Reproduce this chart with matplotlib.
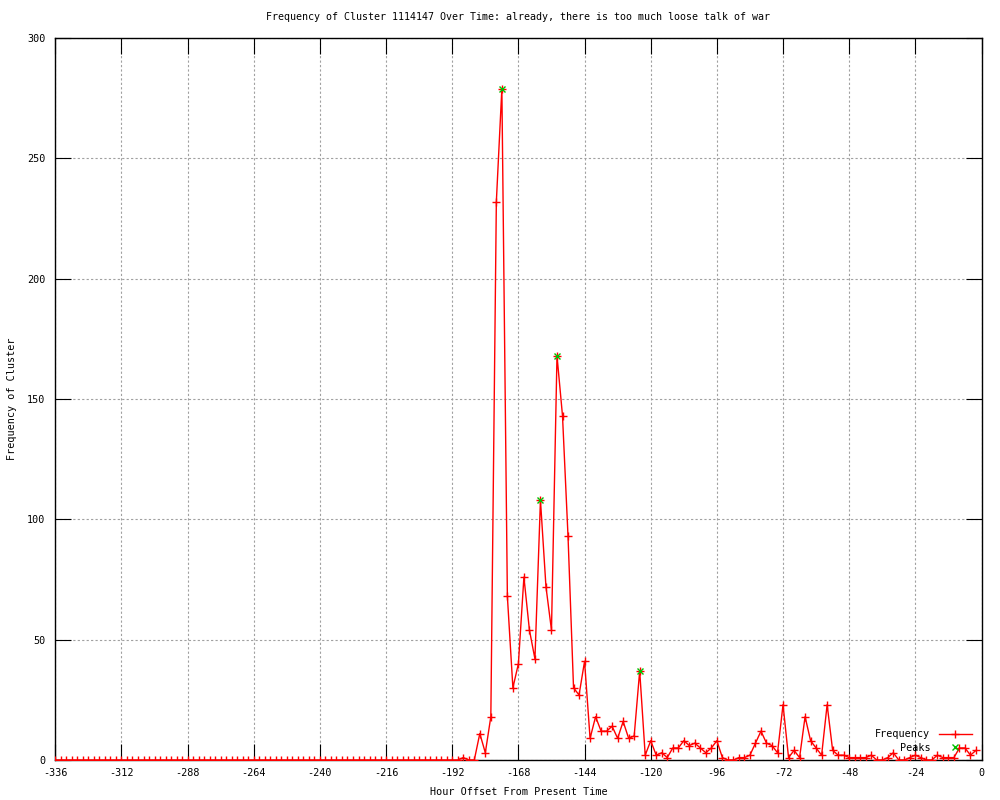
import matplotlib
matplotlib.use('Agg')
import matplotlib.pyplot as plt
import numpy as np

# Data: hourly offsets (every 2 hours) and cluster frequency
hours = np.arange(-336, 0, 2)
freq = [0] * 74 + [
    1, 0, 0, 11, 3, 18, 232, 279, 68, 30,
    40, 76, 54, 42, 108, 72, 54, 168, 143, 93,
    30, 27, 41, 9, 18, 12, 12, 14, 9, 16,
    9, 10, 37, 2, 8, 2, 3, 1, 5, 5,
    8, 6, 7, 5, 3, 5, 8, 1, 0, 0,
    1, 1, 2, 7, 12, 7, 6, 3, 23, 1,
    4, 1, 18, 8, 5, 2, 23, 4, 2, 2,
    1, 1, 1, 1, 2, 0, 0, 1, 3, 0,
    0, 1, 2, 1, 0, 0, 2, 1, 1, 1,
    5, 5, 2, 4,
]
peak_hours = [-174, -160, -154, -124]
peak_values = [279, 108, 168, 37]

x_ticks = list(range(-336, 1, 24))
y_ticks = list(range(0, 301, 50))

plt.rcParams['font.family'] = ['DejaVu Sans Mono']
plt.rcParams['font.size'] = 7.3
plt.rcParams['axes.unicode_minus'] = False

fig = plt.figure(figsize=(10, 8), dpi=100)
ax = fig.add_axes([0.0553, 0.05, 0.9262, 0.9025])

ax.plot(hours, freq, color='#ff0000', linewidth=1.0, marker='+',
        markersize=5.5, markeredgewidth=1.0, label='Frequency', zorder=3)
ax.plot(peak_hours, peak_values, linestyle='none', color='#00c000', marker='x',
        markersize=5, markeredgewidth=1.0, label='Peaks', zorder=4)

ax.set_xlim(-336, 0)
ax.set_ylim(0, 300)
ax.set_xticks(x_ticks)
ax.set_yticks(y_ticks)
ax.tick_params(direction='in', length=11.5, width=0.8, top=True, right=True,
               labelsize=7.3, colors='black')
ax.tick_params(axis='x', pad=6)
ax.tick_params(axis='y', pad=7)
ax.grid(True, color='#a0a0a0', linestyle=(0, (2, 2)), linewidth=0.8)
for s in ax.spines.values():
    s.set_linewidth(1.0)
    s.set_color('black')

ax.set_xlabel('Hour Offset From Present Time', labelpad=6)
ax.set_ylabel('Frequency of Cluster')
ax.yaxis.set_label_coords(-0.041, 0.5)
ax.set_title('Frequency of Cluster 1114147 Over Time: already, there is too much loose talk of war',
             fontsize=7.2, pad=13)

ax.legend(loc='lower right', bbox_to_anchor=(0.972, 0.059), bbox_transform=fig.transFigure,
          frameon=False, markerfirst=False, numpoints=1, handlelength=3.3,
          handletextpad=0.8, labelspacing=0.35, borderpad=0, borderaxespad=0,
          fontsize=7.3)

plt.savefig('out.png', dpi=100, facecolor='white')
